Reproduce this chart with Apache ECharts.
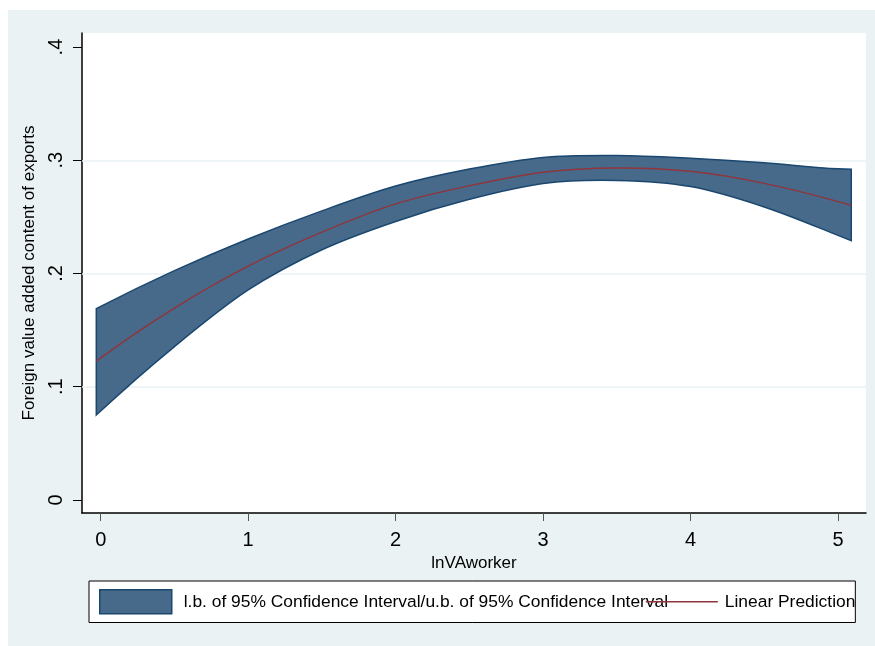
<!DOCTYPE html>
<html>
<head>
<meta charset="utf-8">
<script src="https://cdn.jsdelivr.net/npm/echarts@6/dist/echarts.min.js"></script>
<style>
html,body{margin:0;padding:0;background:#ffffff;width:875px;height:646px;overflow:hidden;}
#chart{position:absolute;left:8px;top:10px;width:867px;height:636px;}
</style>
</head>
<body>
<div id="chart"></div>
<script>
// x values (lnVAworker)
const xVals = [-0.03, 0.5, 1, 1.5, 2, 2.5, 3, 3.5, 4, 4.5, 5, 5.09];
// upper bound of 95% CI
const upperVals = [0.169, 0.2025, 0.2305, 0.2553, 0.2772, 0.2922, 0.3025, 0.3042, 0.3018, 0.2978, 0.2925, 0.292];
// linear prediction
const predVals = [0.1227, 0.1695, 0.2065, 0.2365, 0.2615, 0.2775, 0.2895, 0.2932, 0.2902, 0.2796, 0.2635, 0.2602];
// lower bound of 95% CI
const lowerVals = [0.075, 0.1355, 0.1855, 0.221, 0.246, 0.2655, 0.2795, 0.2822, 0.2768, 0.2588, 0.2337, 0.229];
// tick labels
const xTicks = [0, 1, 2, 3, 4, 5];
const yTicks = [0, 0.1, 0.2, 0.3, 0.4];
const gridLines = [0.1, 0.2, 0.3];

const bandName = 'l.b. of 95% Confidence Interval/u.b. of 95% Confidence Interval';
const predName = 'Linear Prediction';

const FONT = 'Arial, "Liberation Sans", Helvetica, sans-serif';
const BAND_FILL = '#476a8b';
const BAND_EDGE = '#1a476f';
const PRED = '#90353b';

// Hermite (x-monotone) cubic segments in data space: [c1, c2, p1] per segment
function curveSegments(xs, ys) {
  const n = xs.length;
  const h = [], d = [];
  for (let i = 0; i < n - 1; i++) {
    h.push(xs[i + 1] - xs[i]);
    d.push((ys[i + 1] - ys[i]) / h[i]);
  }
  const m = new Array(n);
  for (let i = 1; i < n - 1; i++) {
    m[i] = (h[i] * d[i - 1] + h[i - 1] * d[i]) / (h[i - 1] + h[i]);
  }
  m[0] = ((2 * h[0] + h[1]) * d[0] - h[0] * d[1]) / (h[0] + h[1]);
  const k = n - 2;
  m[n - 1] = ((2 * h[k] + h[k - 1]) * d[k] - h[k] * d[k - 1]) / (h[k] + h[k - 1]);
  const segs = [];
  for (let i = 0; i < n - 1; i++) {
    segs.push([
      [xs[i] + h[i] / 3, ys[i] + m[i] * h[i] / 3],
      [xs[i + 1] - h[i] / 3, ys[i + 1] - m[i + 1] * h[i] / 3],
      [xs[i + 1], ys[i + 1]]
    ]);
  }
  return segs;
}

const fmtY = (v) => {
  if (Math.abs(v) < 1e-9) return '0';
  return String(Math.round(v * 10) / 10).replace(/^0\./, '.');
};

function bandPath(api) {
  const f = (p) => { const c = api.coord(p); return c[0].toFixed(2) + ' ' + c[1].toFixed(2); };
  const up = curveSegments(xVals, upperVals);
  const lo = curveSegments(xVals, lowerVals);
  const n = xVals.length;
  let s = 'M' + f([xVals[0], upperVals[0]]);
  up.forEach((g) => { s += ' C' + f(g[0]) + ' ' + f(g[1]) + ' ' + f(g[2]); });
  s += ' L' + f([xVals[n - 1], lowerVals[n - 1]]);
  for (let i = lo.length - 1; i >= 0; i--) {
    const g = lo[i];
    s += ' C' + f(g[1]) + ' ' + f(g[0]) + ' ' + f([xVals[i], lowerVals[i]]);
  }
  s += ' Z';
  return s;
}

function linePath(api, ys) {
  const f = (p) => { const c = api.coord(p); return c[0].toFixed(2) + ' ' + c[1].toFixed(2); };
  const segs = curveSegments(xVals, ys);
  let s = 'M' + f([xVals[0], ys[0]]);
  segs.forEach((g) => { s += ' C' + f(g[0]) + ' ' + f(g[1]) + ' ' + f(g[2]); });
  return s;
}

const chart = echarts.init(document.getElementById('chart'), null, {renderer: 'canvas'});
chart.setOption({
  backgroundColor: '#eaf2f3',
  animation: false,
  textStyle: {fontFamily: FONT},
  grid: {
    left: 74, right: 9, top: 23, bottom: 133,
    show: true, backgroundColor: '#ffffff', borderWidth: 0
  },
  legend: {
    left: 81, top: 571,
    padding: [8, 0, 8, 10],
    backgroundColor: '#ffffff',
    borderColor: '#000000', borderWidth: 1, borderRadius: 0,
    itemWidth: 72, itemHeight: 24, itemGap: -23,
    selectedMode: false,
    textStyle: {fontFamily: FONT, fontSize: 17.4, color: '#000000'},
    data: [
      {name: bandName, icon: 'rect',
       itemStyle: {color: BAND_FILL, borderColor: BAND_EDGE, borderWidth: 1.5},
       textStyle: {padding: [0, 0, 0, 7]}},
      {name: predName,
       itemStyle: {color: 'rgba(0,0,0,0)', opacity: 0, borderWidth: 0},
       lineStyle: {color: PRED, width: 1.5},
       textStyle: {padding: [0, 0, 0, 2]}}
    ]
  },
  xAxis: {
    type: 'value', min: -0.127, max: 5.19,
    name: 'lnVAworker', nameLocation: 'middle', nameGap: 37,
    nameTextStyle: {fontFamily: FONT, fontSize: 17, color: '#000000'},
    axisLine: {show: true, onZero: false, lineStyle: {color: '#000000', width: 1.5}},
    axisTick: {show: true, customValues: xTicks, length: 8, lineStyle: {color: '#555555', width: 1}},
    axisLabel: {customValues: xTicks, margin: 17, fontSize: 20, color: '#000000', fontFamily: FONT,
                formatter: (v) => String(v)},
    splitLine: {show: false}
  },
  yAxis: {
    type: 'value', min: -0.0115, max: 0.4124,
    name: 'Foreign value added content of exports', nameLocation: 'middle', nameGap: 36,
    nameRotate: 90,
    nameTextStyle: {fontFamily: FONT, fontSize: 17, color: '#000000'},
    axisLine: {show: true, onZero: false, lineStyle: {color: '#000000', width: 1.5}},
    axisTick: {show: true, customValues: yTicks, length: 9, lineStyle: {color: '#000000', width: 1}},
    axisLabel: {customValues: yTicks, rotate: 90, margin: 16, fontSize: 20, color: '#000000', fontFamily: FONT,
                formatter: fmtY},
    splitLine: {show: false}
  },
  series: [
    {
      name: bandName, type: 'custom', data: [0], z: 3, silent: true,
      itemStyle: {color: BAND_FILL},
      renderItem: (params, api) => ({
        type: 'path',
        shape: {pathData: bandPath(api)},
        style: {fill: BAND_FILL, stroke: BAND_EDGE, lineWidth: 1.5, lineJoin: 'miter'}
      })
    },
    {
      name: 'prediction-curve', type: 'custom', data: [0], z: 5, silent: true,
      renderItem: (params, api) => ({
        type: 'path',
        shape: {pathData: linePath(api, predVals)},
        style: {fill: null, stroke: PRED, lineWidth: 1.5}
      })
    },
    {
      name: predName, type: 'line', data: [], symbol: 'none',
      itemStyle: {color: PRED}, lineStyle: {color: PRED, width: 1.5}, z: 2,
      markLine: {
        silent: true, symbol: 'none', label: {show: false}, z: 1,
        lineStyle: {color: '#eaf2f3', width: 1.5, type: 'solid'},
        data: gridLines.map((v) => ({yAxis: v}))
      }
    }
  ]
});
</script>
</body>
</html>
